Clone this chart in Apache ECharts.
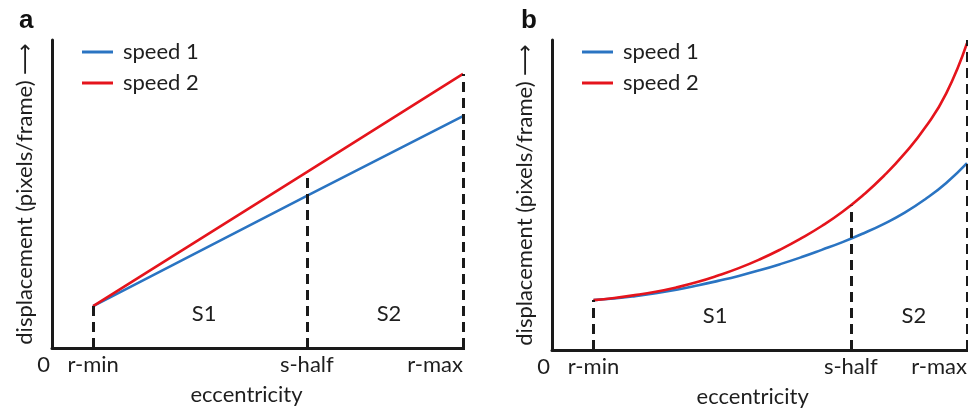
<!DOCTYPE html>
<html>
<head>
<meta charset="utf-8">
<script src="https://cdn.jsdelivr.net/npm/echarts@6/dist/echarts.min.js"></script>
<style>html,body{margin:0;padding:0;background:#fff}#c{width:968px;height:410px}</style>
</head>
<body>
<div id="c"></div>
<script>
// ---- data ----
const panelTitles = ['a', 'b'];
const seriesNames = ['speed 1', 'speed 2'];
const tickNames = ['0', 'r-min', 's-half', 'r-max'];
const tickValsA = [0, 1, 6.2, 10];
const tickValsB = [0, 1, 7.2, 10];
// panel a (linear)
const xA = [1, 6.2, 10];
const speed1A = [1.36, 4.94, 7.53];
const speed2A = [1.36, 5.71, 8.9];
// panel b (accelerating)
const xB = [1, 1.5, 2, 2.5, 3, 3.5, 4, 4.5, 5, 5.5, 6, 6.5, 7, 7.5, 8, 8.5, 9, 9.5, 10];
const speed1B = [1.61, 1.66, 1.735, 1.83, 1.945, 2.08, 2.23, 2.39, 2.57, 2.77, 2.99, 3.23, 3.48, 3.76, 4.07, 4.43, 4.87, 5.39, 6.03];
const speed2B = [1.61, 1.68, 1.77, 1.88, 2.02, 2.19, 2.40, 2.64, 2.92, 3.24, 3.60, 4.00, 4.46, 5.0, 5.62, 6.34, 7.19, 8.28, 9.90];
// heights of dashed guide lines at r-min, s-half, r-max
const guideTopA = [1.36, 5.71, 8.9];
const guideTopB = [1.61, 4.66, 10.0];
// region labels
const regionNames = ['S1', 'S2'];
const regionXA = [3.7, 8.2];
const regionXB = [3.93, 8.72];
const regionY = 1.1;
const xName = 'eccentricity';
const yName = 'displacement (pixels/frame) \u27F6';

// ---- style ----
const FONT = 'Lato, "DejaVu Sans", sans-serif';
const FS = 22;
const TXT = '#1e1e1e';
const AX = '#1a1a1a';
const BLUE = '#2a74c2';
const RED = '#e5141c';

function pairs(xs, ys) { return xs.map((x, i) => [x, ys[i]]); }

function dashed(ticks, tops) {
  return ticks.slice(1).map((t, i) => [{ coord: [t, 0] }, { coord: [t, tops[i]] }]);
}

function regions(xs) {
  return regionNames.map((n, i) => ({ name: n, coord: [xs[i], regionY] }));
}

function xAxis(idx, ticks, max) {
  return {
    type: 'value', gridIndex: idx, min: 0, max: max,
    name: xName, nameLocation: 'middle', nameGap: 36,
    nameTextStyle: { fontFamily: FONT, fontSize: FS, color: TXT, padding: [0, 22, 0, 0] },
    splitLine: { show: false },
    axisLine: { lineStyle: { color: AX, width: 3 } },
    axisTick: { show: true, customValues: ticks.slice(1), length: 2, lineStyle: { color: AX, width: 3 } },
    axisLabel: {
      customValues: ticks, margin: 6,
      fontFamily: FONT, fontSize: FS, color: TXT,
      alignMinLabel: 'right', alignMaxLabel: 'right',
      formatter: v => {
        const i = ticks.indexOf(v);
        const n = i >= 0 ? tickNames[i] : '';
        return i === 0 ? '{z|' + n + '}' : n;
      },
      rich: { z: { fontFamily: FONT, fontSize: FS, color: TXT, padding: [0, 2, 0, 0] } }
    }
  };
}

function yAxis(idx) {
  return {
    type: 'value', gridIndex: idx, min: 0, max: 10,
    name: yName, nameLocation: 'middle', nameGap: 16, nameRotate: 90,
    nameTextStyle: { fontFamily: FONT, fontSize: FS, color: TXT },
    splitLine: { show: false },
    axisLine: { show: true, lineStyle: { color: AX, width: 3 } },
    axisTick: { show: false },
    axisLabel: { show: false }
  };
}

function legend(left) {
  return {
    left: left, top: 40, orient: 'vertical', padding: 0,
    icon: 'rect', itemWidth: 31, itemHeight: 3, itemGap: 7,
    data: seriesNames,
    textStyle: { fontFamily: FONT, fontSize: FS, color: TXT, lineHeight: 24, padding: [0, 0, 0, 5] }
  };
}

const markLineStyle = {
  symbol: ['none', 'none'], silent: true, label: { show: false },
  lineStyle: { type: [10, 6], color: AX, width: 3 }
};
const markPointStyle = {
  symbol: 'circle', symbolSize: 0, silent: true,
  label: { show: true, position: 'inside', formatter: p => p.name, fontFamily: FONT, fontSize: FS, color: TXT }
};
const titleStyle = { fontFamily: '"Liberation Sans", Arial', fontWeight: 'bold', fontSize: 26, color: '#111' };

const chart = echarts.init(document.getElementById('c'), null, { renderer: 'canvas' });
chart.setOption({
  animation: false,
  backgroundColor: '#fff',
  title: [
    { text: panelTitles[0], left: 14, top: 3, textStyle: titleStyle },
    { text: panelTitles[1], left: 516, top: 3, textStyle: titleStyle }
  ],
  legend: [legend(82), legend(582)],
  grid: [
    { left: 52, top: 40, width: 411, height: 308, outerBoundsMode: 'none' },
    { left: 552, top: 40, width: 423.3, height: 310, outerBoundsMode: 'none' }
  ],
  xAxis: [xAxis(0, tickValsA, 10), xAxis(1, tickValsB, 10.2)],
  yAxis: [yAxis(0), yAxis(1)],
  series: [
    { name: seriesNames[0], type: 'line', xAxisIndex: 0, yAxisIndex: 0, data: pairs(xA, speed1A),
      symbol: 'none', color: BLUE, lineStyle: { width: 2.6, color: BLUE },
      markPoint: Object.assign({ data: regions(regionXA) }, markPointStyle) },
    { name: seriesNames[1], type: 'line', xAxisIndex: 0, yAxisIndex: 0, data: pairs(xA, speed2A),
      symbol: 'none', color: RED, lineStyle: { width: 2.6, color: RED },
      markLine: Object.assign({ data: dashed(tickValsA, guideTopA) }, markLineStyle) },
    { name: seriesNames[0], type: 'line', xAxisIndex: 1, yAxisIndex: 1, data: pairs(xB, speed1B),
      symbol: 'none', smooth: 0.5, color: BLUE, lineStyle: { width: 2.6, color: BLUE },
      markPoint: Object.assign({ data: regions(regionXB) }, markPointStyle) },
    { name: seriesNames[1], type: 'line', xAxisIndex: 1, yAxisIndex: 1, data: pairs(xB, speed2B),
      symbol: 'none', smooth: 0.5, color: RED, lineStyle: { width: 2.6, color: RED },
      markLine: Object.assign({ data: dashed(tickValsB, guideTopB) }, markLineStyle) }
  ]
});
</script>
</body>
</html>
